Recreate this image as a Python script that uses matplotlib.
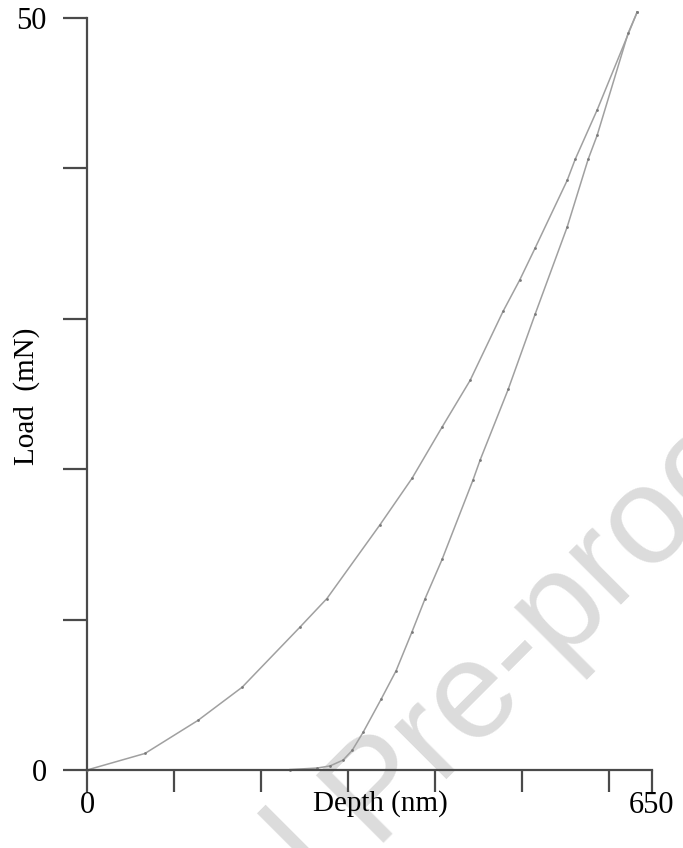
import numpy as np
import matplotlib
matplotlib.use("Agg")
import matplotlib.pyplot as plt

# ============================================================
# DATA
# ============================================================
load_depth = [0, 66.7, 127.7, 178.4, 245.0, 276.0, 337.0, 374.0, 408.5, 440.7,
              478.7, 498.0, 515.5, 552.4, 561.6, 587.0, 633.0]
load_force = [0, 1.1, 3.3, 5.5, 9.5, 11.4, 16.3, 19.4, 22.8, 25.9,
              30.5, 32.6, 34.7, 39.2, 40.6, 43.9, 50.4]

unload_depth = [633.0, 622.6, 586.9, 576.5, 552.4, 515.5, 484.5, 452.2, 444.2,
                408.5, 389.0, 374.0, 355.6, 338.3, 317.6, 305.0, 294.6, 279.6,
                264.7, 233.6]
unload_force = [50.4, 49.0, 42.2, 40.6, 36.1, 30.3, 25.3, 20.6, 19.3,
                14.0, 11.4, 9.2, 6.6, 4.7, 2.5, 1.3, 0.66, 0.27,
                0.13, 0.03]

x_major = [0, 650]
x_minor = [100, 200, 300, 400, 500, 600]
y_ticks = [0, 10, 20, 30, 40, 50]
y_labels = ["0", "", "", "", "", "50"]

# ============================================================
# FIGURE
# ============================================================
plt.rcParams["font.family"] = ["Liberation Serif", "DejaVu Serif"]
W, H = 683, 848
fig = plt.figure(figsize=(W / 100, H / 100), dpi=100)

ax = fig.add_axes([87 / W, 78 / H, 565 / W, 752 / H])
ax.patch.set_alpha(0)

spine_c = "#4a4a4a"
curve_c = "#a0a0a0"

for key in ["top", "right"]:
    ax.spines[key].set_visible(False)
for key in ["left", "bottom"]:
    ax.spines[key].set_color(spine_c)
    ax.spines[key].set_linewidth(1.6)

ax.plot(load_depth, load_force, color=curve_c, lw=1.1, marker="o", ms=2.0,
        mfc="#7a7a7a", mec="none", clip_on=False)
ax.plot(unload_depth, unload_force, color=curve_c, lw=1.1, marker="o", ms=2.0,
        mfc="#7a7a7a", mec="none", clip_on=False)

ax.set_xlim(0, 650)
ax.set_ylim(0, 50)

ax.set_xticks(x_major)
ax.set_xticklabels(["0", "650"])
ax.set_xticks(x_minor, minor=True)
ax.set_yticks(y_ticks)
ax.set_yticklabels(y_labels)

ax.tick_params(axis="x", which="both", direction="out", length=16, width=1.6,
               color=spine_c, labelsize=22, pad=-1)
ax.tick_params(axis="y", which="both", direction="out", length=17, width=1.6,
               color=spine_c, labelsize=22, pad=12)

ax.set_xlabel("Depth (nm)", fontsize=21)
ax.xaxis.set_label_coords(0.519, -0.027)
ax.set_ylabel("Load  (mN)", fontsize=21)
ax.yaxis.set_label_coords(-0.083, 0.497)

# journal watermark
wm = dict(fontsize=100, color="#dcdcdc", rotation=45, rotation_mode="anchor",
          family="Liberation Sans", va="baseline", zorder=-1)
fig.text(372 / W, 1 - 842 / H, "Pre-proof", ha="left", **wm)
fig.text(372 / W, 1 - 842 / H, "Journal ", ha="right", **wm)

fig.savefig("out.png", dpi=100)
